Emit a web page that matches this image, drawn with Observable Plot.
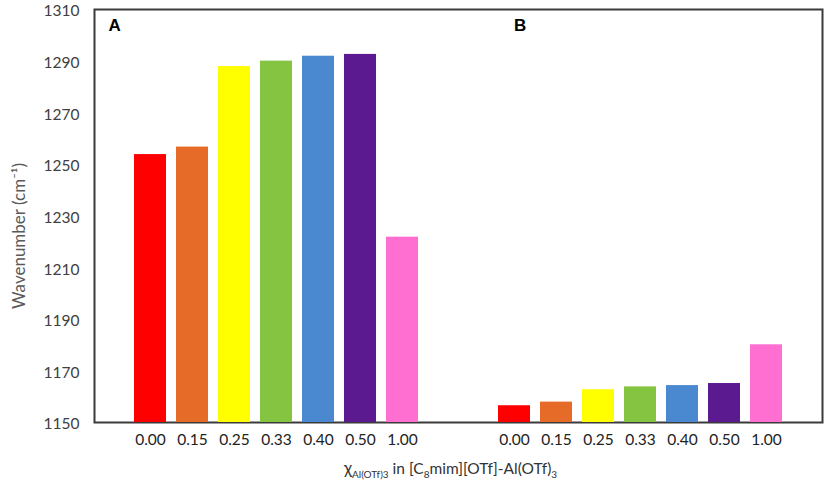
<!DOCTYPE html>
<html>
<head>
<meta charset="utf-8">
<script src="https://cdn.jsdelivr.net/npm/d3@7"></script>
<script src="https://cdn.jsdelivr.net/npm/@observablehq/plot@0.6"></script>
<style>
  body { margin: 0; background: #fff; }
  #title { font-family: Lato, sans-serif; font-size: 15.5px; color: #333; width: 729px; margin-left: 86px; text-align: center; margin-top: 5px; }
  #title .chi { font-size: 17px; }
  #title sub { font-size: 10px; }
</style>
</head>
<body>
<div id="chart"></div>
<div id="title"><span class="chi">χ</span><sub>Al(OTf)3</sub> in [C<sub>8</sub>mim][OTf]-Al(OTf)<sub>3</sub></div>
<script>
const groups = ["A", "B"];
const fractions = ["0.00", "0.15", "0.25", "0.33", "0.40", "0.50", "1.00"];
const valuesA = [1253.8, 1256.7, 1287.9, 1290.0, 1291.9, 1292.6, 1221.8];
const valuesB = [1156.5, 1157.9, 1162.7, 1163.8, 1164.3, 1165.1, 1180.1];
const barColors = ["#ff0000", "#e66a28", "#ffff00", "#85c441", "#4a89cf", "#5c1a90", "#ff6fd2"];
const yTicks = [1150, 1170, 1190, 1210, 1230, 1250, 1270, 1290, 1310];
const yMin = 1150, yMax = 1310;
const yTitle = "Wavenumber (cm\u207B\u00B9)";

const data = [
  ...fractions.map((f, i) => ({group: "A", fraction: f, value: valuesA[i]})),
  ...fractions.map((f, i) => ({group: "B", fraction: f, value: valuesB[i]}))
];

const chart = Plot.plot({
  width: 829,
  height: 452,
  marginLeft: 93,
  marginRight: 7,
  marginTop: 9,
  marginBottom: 30,
  style: {fontFamily: "Lato, sans-serif", fontSize: "15.5px", background: "#fff"},
  fx: {domain: groups, padding: 0, axis: null, label: null},
  x: {domain: fractions, paddingInner: 0.24, paddingOuter: 0.87, axis: null, label: null},
  y: {domain: [yMin, yMax], axis: null, label: null},
  color: {domain: fractions, range: barColors},
  marks: [
    Plot.frame({facet: "super", stroke: "#3a3a3a", strokeWidth: 2}),
    Plot.barY(data, {fx: "group", x: "fraction", y1: yMin, y2: "value", fill: "fraction"}),
    Plot.axisY({ticks: yTicks, tickSize: 0, tickPadding: 15, dy: 2, fill: "#404040", label: null, tickFormat: d => String(d)}),
    Plot.axisX({tickSize: 0, tickPadding: 11, fill: "#222", label: null}),
    Plot.text(["A"], {fx: d => d, text: d => d, frameAnchor: "top-left", textAnchor: "start", lineAnchor: "top", dx: 14, dy: 9, fontWeight: "bold", fontFamily: "Liberation Sans, Arial, sans-serif", fontSize: 17, fill: "#000"}),
    Plot.text(["B"], {fx: d => d, text: d => d, frameAnchor: "top-left", textAnchor: "start", lineAnchor: "top", dx: 55.5, dy: 9, fontWeight: "bold", fontFamily: "Liberation Sans, Arial, sans-serif", fontSize: 17, fill: "#000"}),
    Plot.text([yTitle], {facet: "super", text: d => d, frameAnchor: "left", rotate: -90, textAnchor: "middle", lineAnchor: "middle", dx: -75, dy: 20, fontSize: 17, fill: "#595959"})
  ]
});
document.getElementById("chart").appendChild(chart);
</script>
</body>
</html>
